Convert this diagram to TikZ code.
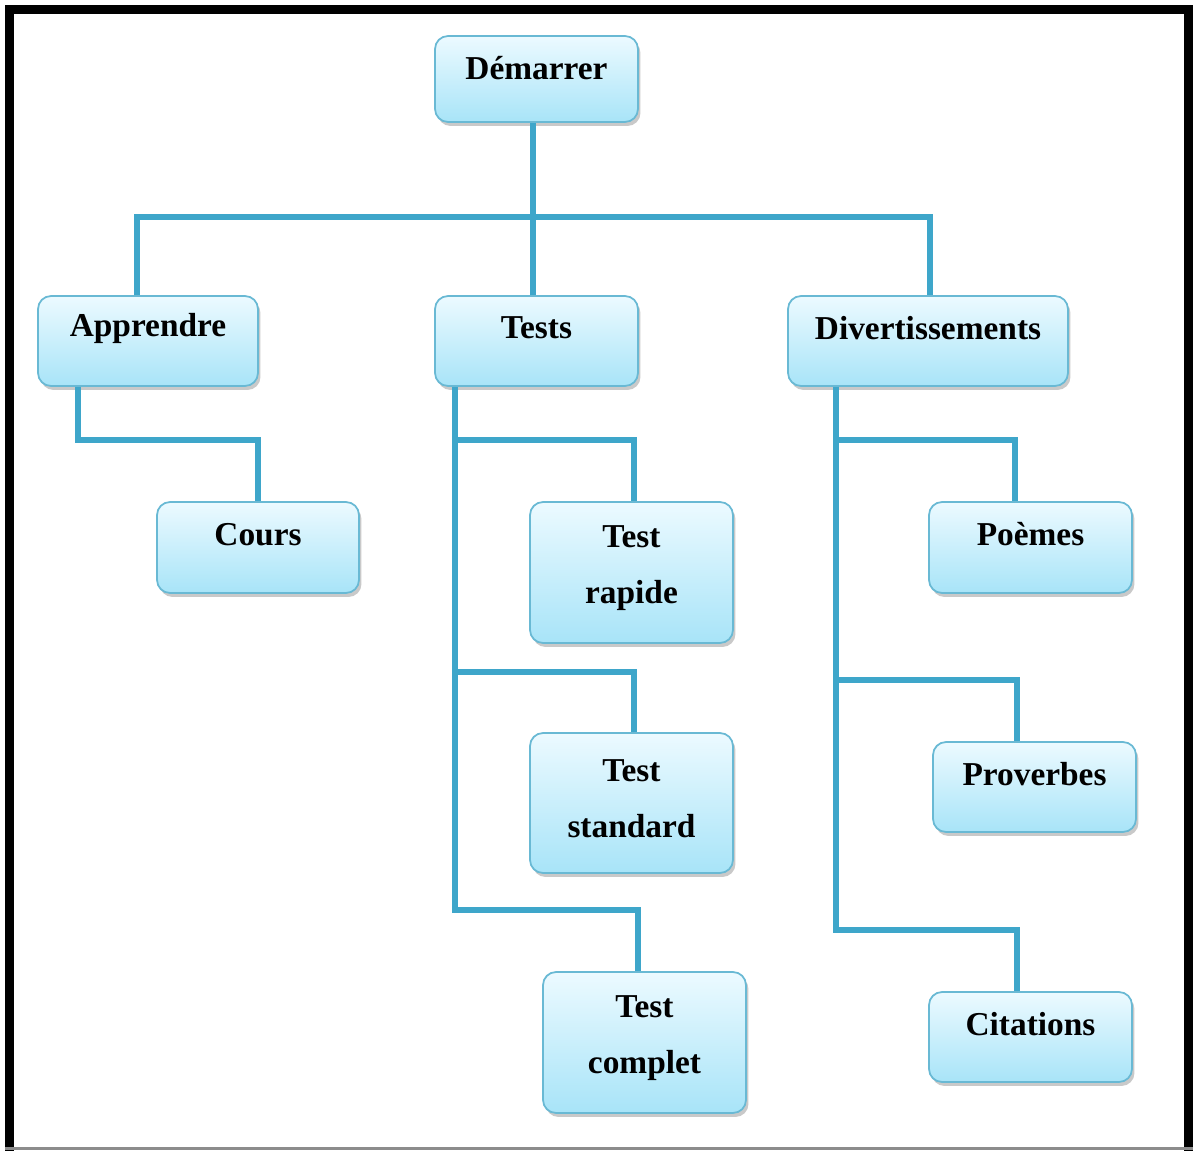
\documentclass[tikz,border=0pt]{standalone}
\usepackage{fontspec}
\setmainfont{Liberation Serif}
\usetikzlibrary{shadows}
\definecolor{linec}{RGB}{62,166,202}
\definecolor{boxborder}{RGB}{105,185,212}
\definecolor{boxtop}{RGB}{236,250,255}
\definecolor{boxbot}{RGB}{168,228,248}
\tikzset{
  box/.style={draw=boxborder, line width=0.035cm, rounded corners=0.26cm,
    top color=boxtop, bottom color=boxbot, inner sep=0pt,
    drop shadow={shadow xshift=0.05cm, shadow yshift=-0.08cm, opacity=0.3, fill=black!70}},
  lbl/.style={font=\fontsize{19}{32}\selectfont\bfseries, align=center, text=black, inner sep=0pt},
  conn/.style={draw=linec, line width=0.12cm, line join=miter},
  frame/.style={draw=black, line width=0.18cm}
}
\begin{document}
\begin{tikzpicture}[x=0.02cm, y=-0.02cm]
\useasboundingbox (0,0) rectangle (1193,1151);
% frame
\draw[frame] (9.5,1151) -- (9.5,9.5) -- (1188.5,9.5) -- (1188.5,1151);
\draw[draw=black!45, line width=0.05cm] (5,1148.5) -- (1193,1148.5);

% junction coordinates
\coordinate (top) at (533,122);
\coordinate (bus) at (533,217);
\coordinate (busl) at (137,217);
\coordinate (busr) at (930,217);
\coordinate (ja0) at (78,386);
\coordinate (ja) at (78,440);
\coordinate (ca) at (258,440);
\coordinate (jt0) at (455,386);
\coordinate (t1) at (455,440);
\coordinate (t1e) at (634,440);
\coordinate (t2) at (455,672);
\coordinate (t2e) at (634,672);
\coordinate (t3) at (455,910);
\coordinate (t3e) at (638,910);
\coordinate (jd0) at (836,386);
\coordinate (d1) at (836,440);
\coordinate (d1e) at (1015,440);
\coordinate (d2) at (836,680);
\coordinate (d2e) at (1017,680);
\coordinate (d3) at (836,930);
\coordinate (d3e) at (1017,930);

% boxes
\node[box, minimum width=4.06cm, minimum height=1.72cm] (dem) at (536.5,79)
  [label={[lbl,yshift=0.22cm]center:Démarrer}] {};
\node[box, minimum width=4.40cm, minimum height=1.80cm] (app) at (148,341)
  [label={[lbl,yshift=0.26cm]center:Apprendre}] {};
\node[box, minimum width=4.06cm, minimum height=1.80cm] (tests) at (536.5,341)
  [label={[lbl,yshift=0.26cm]center:Tests}] {};
\node[box, minimum width=5.60cm, minimum height=1.80cm] (div) at (928,341)
  [label={[lbl,yshift=0.26cm]center:Divertissements}] {};
\node[box, minimum width=4.04cm, minimum height=1.82cm] (cours) at (258,547.5)
  [label={[lbl,yshift=0.26cm]center:Cours}] {};
\node[box, minimum width=4.06cm, minimum height=2.82cm] (tr) at (631.5,572.5)
  [label={[lbl,yshift=0.08cm]center:{Test\\rapide}}] {};
\node[box, minimum width=4.06cm, minimum height=2.80cm] (ts) at (631.5,803)
  [label={[lbl,yshift=0.08cm]center:{Test\\standard}}] {};
\node[box, minimum width=4.06cm, minimum height=2.82cm] (tc) at (644.5,1042.5)
  [label={[lbl,yshift=0.08cm]center:{Test\\complet}}] {};
\node[box, minimum width=4.06cm, minimum height=1.82cm] (poe) at (1030.5,547.5)
  [label={[lbl,yshift=0.26cm]center:Poèmes}] {};
\node[box, minimum width=4.06cm, minimum height=1.80cm] (prov) at (1034.5,787)
  [label={[lbl,yshift=0.26cm]center:Proverbes}] {};
\node[box, minimum width=4.06cm, minimum height=1.80cm] (cit) at (1030.5,1037)
  [label={[lbl,yshift=0.26cm]center:Citations}] {};

% connectors
\draw[conn] (dem.south -| top) -- (tests.north -| top);
\draw[conn] (app.north -| busl) -- (busl) -- (busr) -- (div.north -| busr);
\draw[conn] (app.south -| ja0) -- (ja) -- (ca) -- (cours.north -| ca);
\draw[conn] (tests.south -| jt0) -- (t3) -- (t3e) -- (tc.north -| t3e);
\draw[conn] (t1) -- (t1e) -- (tr.north -| t1e);
\draw[conn] (t2) -- (t2e) -- (ts.north -| t2e);
\draw[conn] (div.south -| jd0) -- (d3) -- (d3e) -- (cit.north -| d3e);
\draw[conn] (d1) -- (d1e) -- (poe.north -| d1e);
\draw[conn] (d2) -- (d2e) -- (prov.north -| d2e);
\end{tikzpicture}
\end{document}
